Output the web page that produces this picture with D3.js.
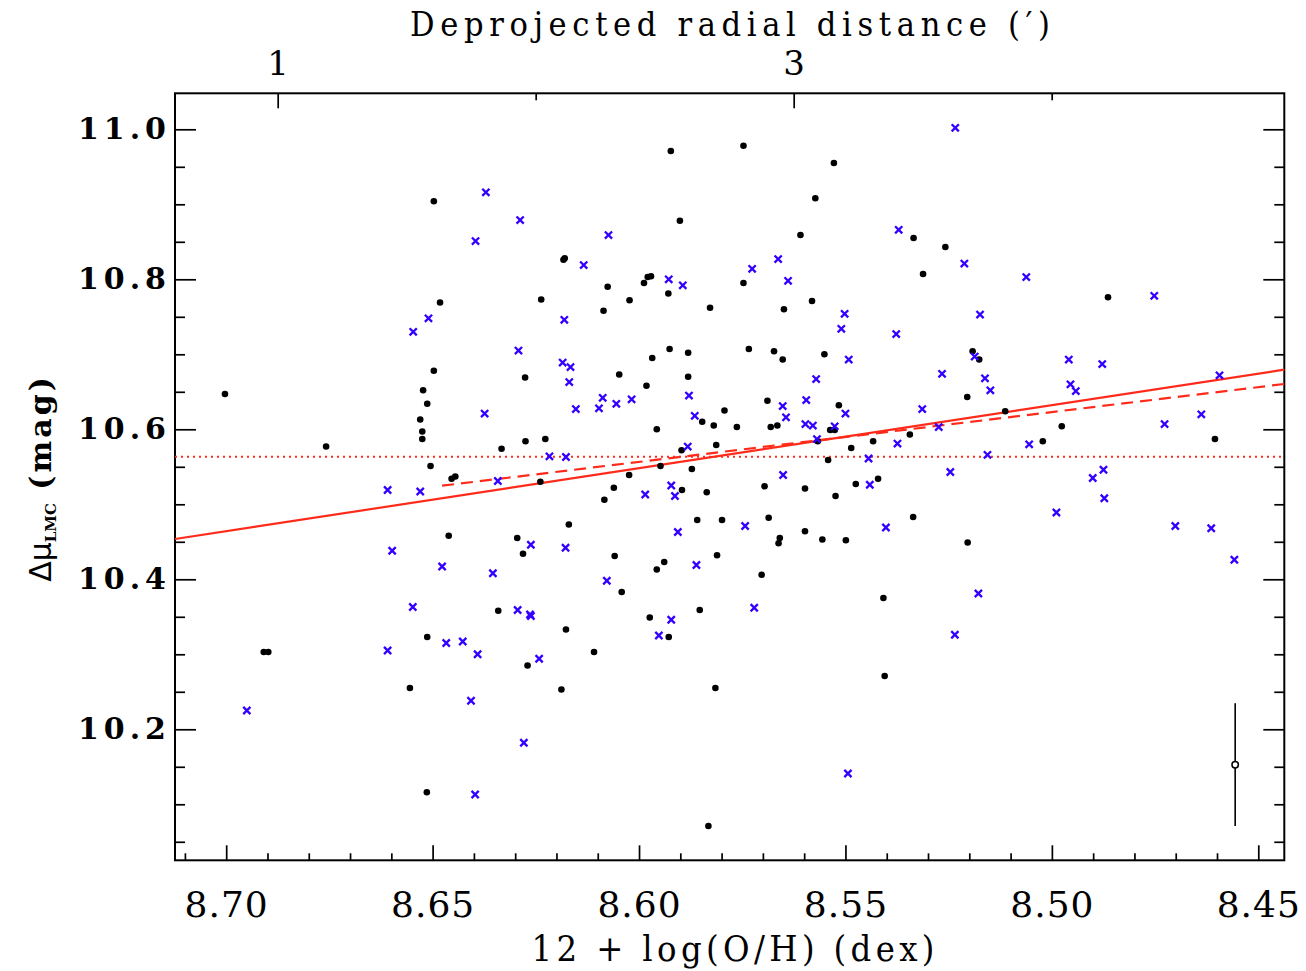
<!DOCTYPE html>
<html>
<head>
<meta charset="utf-8">
<script src="https://cdn.jsdelivr.net/npm/d3@7"></script>
<style>
body { margin: 0; background: #fff; }
.cond { font-family: "DejaVu Serif", serif; font-stretch: condensed; }
</style>
</head>
<body>
<div id="container"></div>
<script>
// black dots: [12+log(O/H), Delta mu]
var blackPts = [
 [8.6497,10.904],[8.6482,10.769],[8.6237,10.773],[8.5923,10.971],[8.5747,10.978],[8.5528,10.955],
 [8.5573,10.908],[8.5901,10.878],[8.5609,10.859],[8.5335,10.855],[8.6183,10.826],[8.6180,10.828],
 [8.6076,10.790],[8.5988,10.795],[8.5979,10.803],[8.5971,10.804],[8.5929,10.781],[8.6023,10.772],
 [8.6086,10.758],[8.5828,10.762],[8.5747,10.795],[8.5649,10.760],[8.5581,10.771],[8.5258,10.843],
 [8.5312,10.807],[8.4864,10.776],[8.7003,10.647],[8.6497,10.678],[8.6523,10.652],[8.6513,10.634],
 [8.6530,10.613],[8.6525,10.597],[8.6525,10.587],[8.6758,10.577],[8.6505,10.551],[8.6454,10.534],
 [8.6445,10.537],[8.6276,10.669],[8.6333,10.574],[8.6275,10.584],[8.6227,10.587],[8.6239,10.530],
 [8.6461,10.458],[8.6295,10.455],[8.6281,10.434],[8.6048,10.673],[8.5968,10.695],[8.5926,10.707],
 [8.5881,10.702],[8.5881,10.670],[8.5982,10.658],[8.5734,10.707],[8.5673,10.704],[8.5652,10.693],
 [8.5551,10.700],[8.5847,10.610],[8.5819,10.605],[8.5793,10.625],[8.5763,10.603],[8.5689,10.638],
 [8.5681,10.603],[8.5665,10.605],[8.5516,10.632],[8.5537,10.599],[8.5526,10.599],[8.5567,10.584],
 [8.5957,10.600],[8.5897,10.572],[8.5813,10.579],[8.5948,10.551],[8.5872,10.547],[8.6024,10.539],
 [8.5486,10.575],[8.5433,10.584],[8.5344,10.593],[8.5542,10.559],[8.6061,10.522],[8.6084,10.506],
 [8.5896,10.519],[8.5836,10.516],[8.5696,10.524],[8.5598,10.521],[8.5524,10.511],[8.5475,10.527],
 [8.5421,10.534],[8.5336,10.483],[8.6170,10.473],[8.5859,10.479],[8.5799,10.479],[8.5686,10.482],
 [8.5598,10.464],[8.5659,10.455],[8.5662,10.448],[8.5556,10.453],[8.5499,10.452],[8.6059,10.431],
 [8.5957,10.413],[8.5939,10.423],[8.5811,10.432],[8.5703,10.406],[8.6042,10.383],[8.5408,10.375],
 [8.5192,10.704],[8.5176,10.693],[8.5205,10.643],[8.5113,10.624],[8.4976,10.604],[8.5022,10.584],
 [8.4605,10.587],[8.5204,10.449],[8.6341,10.358],[8.6513,10.323],[8.6909,10.303],[8.6898,10.303],
 [8.6270,10.285],[8.6555,10.255],[8.6514,10.116],[8.6177,10.333],[8.5974,10.349],[8.5853,10.359],
 [8.5928,10.323],[8.6109,10.303],[8.6188,10.253],[8.5815,10.255],[8.5405,10.271],[8.5832,10.071]
];

// blue crosses
var bluePts = [
 [8.6371,10.916],[8.6288,10.879],[8.6396,10.851],[8.6510,10.748],[8.6547,10.730],[8.6292,10.705],
 [8.5371,10.866],[8.6074,10.859],[8.6134,10.819],[8.5928,10.800],[8.5894,10.792],[8.5726,10.814],
 [8.5663,10.827],[8.5639,10.798],[8.5502,10.754],[8.5510,10.734],[8.5377,10.727],[8.6181,10.746],
 [8.5234,11.002],[8.5212,10.821],[8.5062,10.803],[8.5174,10.753],[8.4752,10.778],[8.6374,10.621],
 [8.6342,10.531],[8.6609,10.519],[8.6530,10.517],[8.6262,10.446],[8.6598,10.438],[8.6477,10.417],
 [8.6354,10.408],[8.6185,10.689],[8.6166,10.683],[8.6169,10.663],[8.5492,10.693],[8.5571,10.667],
 [8.6088,10.642],[8.6055,10.634],[8.6018,10.640],[8.6097,10.628],[8.6153,10.627],[8.5879,10.645],
 [8.5865,10.618],[8.5652,10.631],[8.5644,10.616],[8.5595,10.639],[8.5500,10.621],[8.5597,10.607],
 [8.5579,10.605],[8.5526,10.604],[8.5569,10.587],[8.6217,10.564],[8.6177,10.563],[8.5882,10.577],
 [8.5374,10.581],[8.5444,10.561],[8.5651,10.539],[8.5985,10.513],[8.5922,10.525],[8.5913,10.511],
 [8.5441,10.526],[8.6178,10.442],[8.5906,10.463],[8.5743,10.471],[8.5402,10.469],[8.5861,10.419],
 [8.6078,10.398],[8.5721,10.362],[8.5187,10.697],[8.4959,10.693],[8.4878,10.687],[8.5266,10.674],
 [8.5162,10.668],[8.5149,10.652],[8.4955,10.660],[8.4942,10.651],[8.4594,10.672],[8.5314,10.627],
 [8.5274,10.603],[8.5055,10.580],[8.4727,10.607],[8.4638,10.620],[8.5156,10.566],[8.5246,10.543],
 [8.4901,10.535],[8.4875,10.546],[8.4873,10.508],[8.4989,10.489],[8.4701,10.471],[8.4614,10.468],
 [8.4558,10.426],[8.5178,10.381],[8.6548,10.363],[8.6294,10.359],[8.6264,10.353],[8.6262,10.351],
 [8.6467,10.315],[8.6427,10.317],[8.6391,10.300],[8.6609,10.305],[8.6242,10.294],[8.6407,10.238],
 [8.6950,10.225],[8.6279,10.182],[8.6397,10.113],[8.5922,10.346],[8.5952,10.325],[8.5494,10.141],
 [8.5235,10.326]
];

// fits and reference level
var solidFit = [[8.7124,10.4537],[8.4437,10.6795]];
var dashedFit = [[8.6477,10.5248],[8.4437,10.6604]];
var meanLevel = 10.5635;

// typical error bar
var errPoint = [8.4556, 10.1528];
var errHalf = 0.0818;

// tick values
var xMajor = [8.70, 8.65, 8.60, 8.55, 8.50, 8.45];
var yMajor = [10.2, 10.4, 10.6, 10.8, 11.0];
var rMajor = [1, 3];
var rMinor = [2, 4];

var W = 1306, H = 971;
var plotL = 175, plotR = 1284.3, plotT = 93.3, plotB = 860.3;

var svg = d3.select("#container").append("svg")
	.attr("width", W)
	.attr("height", H);

var x = d3.scaleLinear().domain([8.7124, 8.4437]).range([plotL, plotR]);
var y = d3.scaleLinear().domain([10.0253, 11.048]).range([plotB, plotT]);
var r = d3.scaleLinear().domain([0.602, 4.9016]).range([plotL, plotR]);

var xMinor = d3.range(871, 844, -1).map(function(d){ return d / 100; })
	.filter(function(d){ return xMajor.indexOf(d) < 0; });
var yMinor = d3.range(1005, 1101, 5).map(function(d){ return d / 100; })
	.filter(function(d){ return yMajor.indexOf(d) < 0; });

function styleAxis(g) {
	g.select(".domain").remove();
	g.selectAll(".tick line").attr("stroke", "#000").attr("stroke-width", 1.7);
}

// bottom axis
svg.append("g")
	.attr("transform", "translate(0," + plotB + ")")
	.call(d3.axisBottom(x).tickValues(xMinor).tickSize(-7).tickFormat(""))
	.call(styleAxis);
svg.append("g")
	.attr("transform", "translate(0," + plotB + ")")
	.call(d3.axisBottom(x).tickValues(xMajor).tickSize(-15).tickPadding(31).tickFormat(d3.format(".2f")))
	.call(styleAxis)
	.selectAll("text")
		.attr("fill", "#000")
		.style("font-size", "36px")
		.style("font-family", "'DejaVu Serif', serif")
		.style("letter-spacing", "1px");

// left axis
svg.append("g")
	.attr("transform", "translate(" + plotL + ",0)")
	.call(d3.axisLeft(y).tickValues(yMinor).tickSize(-10).tickFormat(""))
	.call(styleAxis);
svg.append("g")
	.attr("transform", "translate(" + plotL + ",0)")
	.call(d3.axisLeft(y).tickValues(yMajor).tickSize(-21).tickPadding(4).tickFormat(d3.format(".1f")))
	.call(styleAxis)
	.selectAll("text")
		.attr("fill", "#000")
		.style("font-size", "30px")
		.style("font-family", "'DejaVu Serif', serif")
		.style("font-weight", "bold")
		.style("letter-spacing", "5px");

// right axis (ticks only)
svg.append("g")
	.attr("transform", "translate(" + plotR + ",0)")
	.call(d3.axisRight(y).tickValues(yMinor).tickSize(-10).tickFormat(""))
	.call(styleAxis);
svg.append("g")
	.attr("transform", "translate(" + plotR + ",0)")
	.call(d3.axisRight(y).tickValues(yMajor).tickSize(-21).tickFormat(""))
	.call(styleAxis);

// top axis: deprojected radial distance
svg.append("g")
	.attr("transform", "translate(0," + plotT + ")")
	.call(d3.axisTop(r).tickValues(rMinor).tickSize(-7).tickFormat(""))
	.call(styleAxis);
svg.append("g")
	.attr("transform", "translate(0," + plotT + ")")
	.call(d3.axisTop(r).tickValues(rMajor).tickSize(-15).tickPadding(18).tickFormat(d3.format("d")))
	.call(styleAxis)
	.selectAll("text")
		.attr("fill", "#000")
		.style("font-size", "34px")
		.style("font-family", "'DejaVu Serif', serif");

// frame
svg.append("rect")
	.attr("x", plotL).attr("y", plotT)
	.attr("width", plotR - plotL).attr("height", plotB - plotT)
	.attr("fill", "none").attr("stroke", "#000").attr("stroke-width", 2);

// titles
svg.append("text")
	.attr("class", "cond")
	.attr("x", 733).attr("y", 961)
	.attr("text-anchor", "middle")
	.attr("textLength", 403)
	.attr("lengthAdjust", "spacing")
	.style("font-size", "36px")
	.text("12 + log(O/H) (dex)");

svg.append("text")
	.attr("class", "cond")
	.attr("x", 730).attr("y", 36)
	.attr("text-anchor", "middle")
	.attr("textLength", 640)
	.attr("lengthAdjust", "spacing")
	.style("font-size", "34px")
	.text("Deprojected radial distance (\u2032)");

var yt = svg.append("text")
	.attr("transform", "translate(51,478) rotate(-90)")
	.attr("text-anchor", "middle");
yt.append("tspan")
	.style("font-family", "'DejaVu Sans', sans-serif")
	.style("font-size", "30px")
	.text("\u0394\u03bc");
yt.append("tspan")
	.attr("dy", 5)
	.style("font-family", "'DejaVu Serif', serif")
	.style("font-weight", "bold")
	.style("font-size", "15px")
	.text("LMC");
yt.append("tspan")
	.attr("dy", -5)
	.style("font-family", "'DejaVu Serif', serif")
	.style("font-weight", "bold")
	.style("font-size", "30px")
	.style("letter-spacing", "3px")
	.text(" (mag)");

// reference lines
var red = "#ff2a1a";
var line = d3.line().x(function(d){ return x(d[0]); }).y(function(d){ return y(d[1]); });

svg.append("line")
	.attr("x1", plotL).attr("x2", plotR)
	.attr("y1", y(meanLevel)).attr("y2", y(meanLevel))
	.attr("stroke", red).attr("stroke-width", 2)
	.attr("stroke-dasharray", "2,4");

svg.append("path")
	.attr("d", line(solidFit))
	.attr("fill", "none").attr("stroke", red).attr("stroke-width", 2.2);

svg.append("path")
	.attr("d", line(dashedFit))
	.attr("fill", "none").attr("stroke", red).attr("stroke-width", 2.2)
	.attr("stroke-dasharray", "12,7");

// points
svg.selectAll(".dot")
	.data(blackPts).enter()
	.append("circle")
		.attr("class", "dot")
		.attr("r", 3.3)
		.attr("cx", function(d){ return x(d[0]); })
		.attr("cy", function(d){ return y(d[1]); })
		.attr("fill", "#000");

var s = 3.6;
svg.selectAll(".cross")
	.data(bluePts).enter()
	.append("path")
		.attr("class", "cross")
		.attr("d", function(d) {
			var cx = x(d[0]), cy = y(d[1]);
			return "M" + (cx - s) + "," + (cy - s) + "L" + (cx + s) + "," + (cy + s) +
				"M" + (cx - s) + "," + (cy + s) + "L" + (cx + s) + "," + (cy - s);
		})
		.attr("stroke", "#3300ff").attr("stroke-width", 2.3).attr("fill", "none");

// error bar
svg.append("line")
	.attr("x1", x(errPoint[0])).attr("x2", x(errPoint[0]))
	.attr("y1", y(errPoint[1] + errHalf)).attr("y2", y(errPoint[1] - errHalf))
	.attr("stroke", "#000").attr("stroke-width", 1.6);
svg.append("circle")
	.attr("cx", x(errPoint[0])).attr("cy", y(errPoint[1]))
	.attr("r", 3.2)
	.attr("fill", "#fff").attr("stroke", "#000").attr("stroke-width", 1.5);
</script>
</body>
</html>
